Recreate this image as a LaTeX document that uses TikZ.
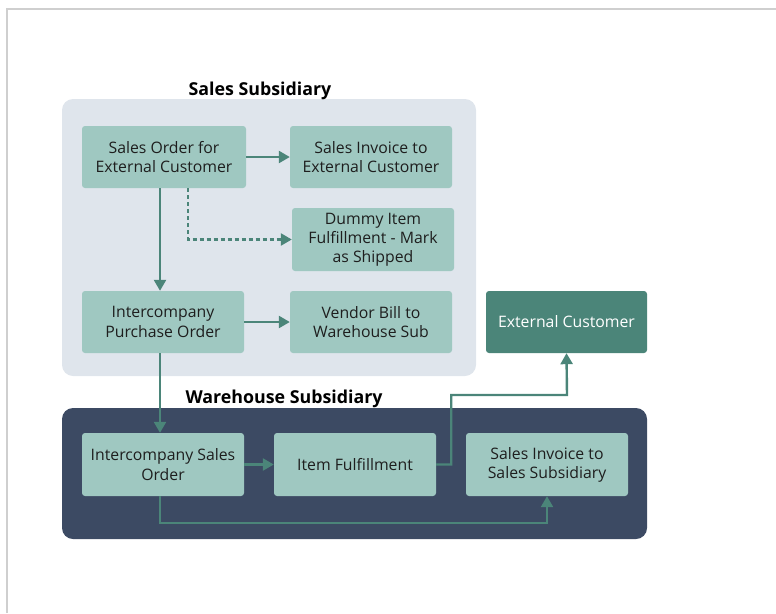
\documentclass[tikz,border=0pt]{standalone}
\usepackage{fontspec}
\setmainfont{Open Sans}
\usetikzlibrary{arrows.meta,calc}
\definecolor{nodefill}{HTML}{9FC8C1}
\definecolor{darkteal}{HTML}{4B8579}
\definecolor{salesbg}{HTML}{DFE5EC}
\definecolor{whbg}{HTML}{3C4A63}
\definecolor{framegray}{HTML}{CFCFCF}
\definecolor{txt}{HTML}{1E1E1E}
\tikzset{
  procbox/.style={fill=nodefill, rounded corners=3pt, minimum width=162pt, minimum height=62pt,
    align=center, text=txt, font=\fontsize{15.8}{19.2}\selectfont, inner sep=1pt},
  darkbox/.style={procbox, fill=darkteal, text=white},
  flow/.style={draw=darkteal, line width=2.4pt, -{Triangle[length=11pt,width=12pt]}},
  groupbg/.style={rounded corners=11pt},
  grouptitle/.style={font=\fontsize{17.8}{21}\selectfont\bfseries, text=black}
}
\begin{document}
\begin{tikzpicture}[x=1pt,y=-1pt]
\useasboundingbox (0,0) rectangle (776,613);
% frame
\draw[framegray, line width=2pt] (7,613) -- (7,9) -- (776,9);
% groups
\fill[salesbg, groupbg] (62,99) rectangle (476,376);
\fill[whbg, groupbg] (62,408) rectangle (647,539);
\node[grouptitle] (t1) at (260,91) {Sales Subsidiary};
\node[grouptitle] (t2) at (284,398.5) {Warehouse Subsidiary};
% nodes
\node[procbox, minimum width=164pt] (so) at (164,157) {Sales Order for\\External Customer};
\node[procbox] (si) at (371,157) {Sales Invoice to\\External Customer};
\node[procbox, minimum height=63pt] (dm) at (373,239.5) {Dummy Item\\Fulfillment - Mark\\as Shipped};
\node[procbox] (ipo) at (163,322) {Intercompany\\Purchase Order};
\node[procbox] (vb) at (371,322) {Vendor Bill to\\Warehouse Sub};
\node[darkbox, minimum width=161pt] (ec) at (566.5,322) {External Customer};
\node[procbox, minimum height=63pt] (iso) at (163,464.5) {Intercompany Sales\\Order};
\node[procbox, minimum height=63pt] (itf) at (355,464.5) {Item Fulfillment};
\node[procbox, minimum height=63pt] (ssi) at (547,464.5) {Sales Invoice to\\Sales Subsidiary};
% connectors
\draw[flow] (so.east) -- (si.west);
\draw[flow] ($(so.south)+(-4,0)$) -- ($(ipo.north)+(-3,0)$);
\draw[flow, dash pattern=on 4pt off 3pt] ($(so.south)+(24,0)$) |- (dm.west);
\draw[flow] (ipo.east) -- (vb.west);
\draw[flow] ($(ipo.south)+(-3,0)$) -- ($(iso.north)+(-3,0)$);
\draw[flow] (iso.east) -- (itf.west);
\draw[flow] (itf.east) -- ++(15,0) |- (567,395) -- (ec.south);
\draw[flow] ($(iso.south)+(-3,0)$) |- (547,523) -- (ssi.south);
\end{tikzpicture}
\end{document}
